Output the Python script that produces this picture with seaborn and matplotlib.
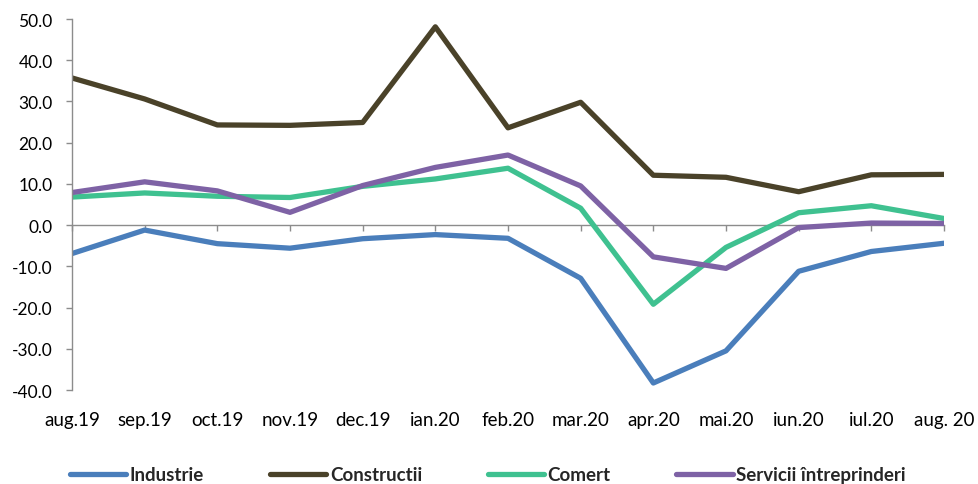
import numpy as np
import pandas as pd
import matplotlib
matplotlib.use("Agg")
import matplotlib.pyplot as plt
import seaborn as sns

months = ["aug.19", "sep.19", "oct.19", "nov.19", "dec.19", "ian.20", "feb.20",
          "mar.20", "apr.20", "mai.20", "iun.20", "iul.20", "aug. 20"]

industrie = [-6.9, -1.2, -4.5, -5.6, -3.3, -2.3, -3.2, -12.9, -38.3, -30.5, -11.2, -6.4, -4.4]
constructii = [35.7, 30.6, 24.3, 24.2, 24.9, 48.1, 23.6, 29.8, 12.1, 11.6, 8.1, 12.2, 12.3]
comert = [6.8, 7.8, 7.0, 6.7, 9.4, 11.2, 13.8, 4.1, -19.2, -5.4, 3.0, 4.7, 1.6]
servicii = [7.9, 10.5, 8.3, 3.1, 9.6, 14.0, 17.0, 9.5, -7.7, -10.5, -0.6, 0.5, 0.4]

series_names = ["Industrie", "Constructii", "Comert", "Servicii întreprinderi"]
series_colors = ["#4A7EBB", "#4A4229", "#3FC190", "#7E62A5"]

df = pd.concat(
    [pd.DataFrame({"luna": months, "valoare": vals, "serie": name})
     for name, vals in zip(series_names, [industrie, constructii, comert, servicii])],
    ignore_index=True,
)

sns.set_theme(style="white")
plt.rcParams["font.family"] = ["Lato", "DejaVu Sans"]

fig = plt.figure(figsize=(9.79, 4.85), dpi=100)
ax = fig.add_axes([72 / 979, 1 - 391 / 485, (944 - 72) / 979, (391 - 20) / 485])

sns.lineplot(data=df, x="luna", y="valoare", hue="serie", hue_order=series_names,
             palette=dict(zip(series_names, series_colors)), sort=False,
             linewidth=3.8, ax=ax)
for ln in ax.get_lines():
    ln.set_solid_joinstyle("round")
    ln.set_solid_capstyle("round")

axis_grey = "#8C8C8C"
ax.set_xlim(0, len(months) - 1)
ax.set_ylim(-40, 50)
ax.set_yticks(np.arange(-40, 51, 10))
ax.set_yticklabels([f"{v:.1f}" for v in np.arange(-40, 51, 10)])
ax.set_xlabel("")
ax.set_ylabel("")

for s in ["top", "right"]:
    ax.spines[s].set_visible(False)
ax.spines["left"].set_color(axis_grey)
ax.spines["left"].set_linewidth(1.0)
ax.spines["bottom"].set_position(("data", 0))
ax.spines["bottom"].set_color(axis_grey)
ax.spines["bottom"].set_linewidth(1.0)
ax.spines["bottom"].set_zorder(0.5)

ax.tick_params(axis="y", direction="out", length=4, width=1.0, color=axis_grey,
               pad=10, labelsize=12.5, labelcolor="#000000", left=True)
ax.set_xticks(np.arange(len(months)))
ax.tick_params(axis="x", direction="out", length=4, width=1.0, color=axis_grey,
               labelbottom=False, bottom=True)

# month labels sit under the plot area, while the ticks stay on the zero line
secax = ax.secondary_xaxis(0.0)
secax.set_xticks(np.arange(len(months)), labels=months)
secax.spines["bottom"].set_visible(False)
secax.tick_params(axis="x", length=0, pad=15, labelsize=13.5, labelcolor="#000000")

handles, labels = ax.get_legend_handles_labels()
leg = ax.legend(handles, labels, loc="center", bbox_to_anchor=(488 / 979, 1 - 476 / 485),
                bbox_transform=fig.transFigure, ncol=4, frameon=False,
                handlelength=3.0, handletextpad=0.2, columnspacing=3.5,
                prop={"weight": "bold", "size": 13.5})
for h in leg.legend_handles:
    h.set_linewidth(3.8)

fig.savefig("out.png", dpi=100)
